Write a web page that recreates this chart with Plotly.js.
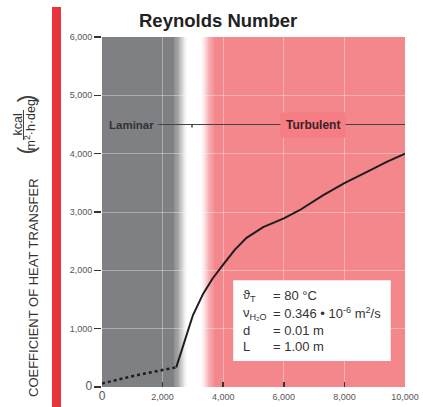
<!DOCTYPE html>
<html>
<head>
<meta charset="utf-8">
<script src="https://cdn.plot.ly/plotly-3.0.1.min.js"></script>
<style>html,body{margin:0;padding:0;background:#fff;}#chart{width:423px;height:407px;}</style>
</head>
<body>
<div id="chart"></div>
<script>
// Laminar part (dotted)
const reLaminar = [0, 500, 1000, 1500, 2000, 2450];
const hLaminar = [60, 125, 185, 240, 290, 337];
// Transition + turbulent part (solid)
const reTurbulent = [2450, 3000, 3340, 3650, 3980, 4380, 4770, 5320, 6000, 6520, 7290, 8000, 8730, 9380, 10000];
const hTurbulent = [337, 1230, 1600, 1860, 2085, 2350, 2556, 2740, 2890, 3030, 3285, 3497, 3685, 3856, 4000];
// Regions (Reynolds number)
const grayEnd = 2380, whiteStart = 2850, whiteEnd = 3230, redStart = 3670, reMax = 10000;
const yTicks = [0, 1000, 2000, 3000, 4000, 5000, 6000];
const yTickText = ['<span style="font-size:12px">0</span>', '1,000', '2,000', '3,000', '4,000', '5,000', '6,000'];
const xTicks = [0, 2000, 4000, 6000, 8000, 10000];
const xTickText = ['<span style="font-size:12px">0</span>', '2,000', '4,000', '6,000', '8,000', '10,000'];
const regimeY = 4500;

const GRAY = [127, 128, 132], WHITE = [255, 255, 255], RED = [243, 135, 139];
function mix(a, b, t) { return 'rgb(' + a.map((v, i) => Math.round(v + (b[i] - v) * t)).join(',') + ')'; }

const shapes = [];
shapes.push({type: 'rect', xref: 'x', yref: 'y', x0: 0, x1: grayEnd, y0: 0, y1: 6000, fillcolor: mix(GRAY, GRAY, 0), line: {width: 0}, layer: 'below'});
const N = 24;
for (let i = 0; i < N; i++) {
  const a = grayEnd + (whiteStart - grayEnd) * i / N, b = grayEnd + (whiteStart - grayEnd) * (i + 1) / N;
  const t = (i + 0.5) / N;
  const s = t * t * (3 - 2 * t);
  shapes.push({type: 'rect', xref: 'x', yref: 'y', x0: a, x1: b + 5, y0: 0, y1: 6000, fillcolor: mix(GRAY, WHITE, s), line: {width: 0}, layer: 'below'});
}
shapes.push({type: 'rect', xref: 'x', yref: 'y', x0: whiteStart, x1: whiteEnd, y0: 0, y1: 6000, fillcolor: 'rgb(255,255,255)', line: {width: 0}, layer: 'below'});
for (let i = 0; i < N; i++) {
  const a = whiteEnd + (redStart - whiteEnd) * i / N, b = whiteEnd + (redStart - whiteEnd) * (i + 1) / N;
  const t = (i + 0.5) / N;
  const s = t * t * (3 - 2 * t);
  shapes.push({type: 'rect', xref: 'x', yref: 'y', x0: a, x1: b + 5, y0: 0, y1: 6000, fillcolor: mix(WHITE, RED, s), line: {width: 0}, layer: 'below'});
}
shapes.push({type: 'rect', xref: 'x', yref: 'y', x0: redStart, x1: reMax, y0: 0, y1: 6000, fillcolor: mix(RED, RED, 0), line: {width: 0}, layer: 'below'});

// regime line
shapes.push({type: 'line', xref: 'x', yref: 'y', x0: 1850, x1: reMax, y0: regimeY, y1: regimeY, line: {color: '#444', width: 1}, layer: 'above'});
shapes.push({type: 'line', xref: 'x', yref: 'y', x0: 2970, x1: 2970, y0: regimeY - 50, y1: regimeY, line: {color: '#444', width: 1.5}, layer: 'above'});
// info box
shapes.push({type: 'rect', xref: 'x', yref: 'y', x0: 4330, x1: 9530, y0: 445, y1: 1832, fillcolor: '#ffffff', line: {width: 0}, layer: 'above'});

// pixel -> paper helpers (plot area: l=102, r=405, t=37, b=387)
const PL = 102, PW = 303, PB = 387, PH = 350;
const px = v => (v - PL) / PW, py = v => (PB - v) / PH;
shapes.push({type: 'rect', xref: 'paper', yref: 'paper', x0: px(52), x1: px(61), y0: py(407), y1: py(7), fillcolor: '#e8343c', line: {width: 0}, layer: 'above'});
shapes.push({type: 'line', xref: 'paper', yref: 'paper', x0: px(23.5), x1: px(23.5), y0: py(140), y1: py(110), line: {color: '#444', width: 1}, layer: 'above'});

const FONT = 'Liberation Sans, Arial, Helvetica, sans-serif';
const txt = (x, y, text, size, extra) => Object.assign({x: x, y: y, xref: 'x', yref: 'y', text: text, showarrow: false, xanchor: 'left', yanchor: 'middle', font: {family: FONT, size: size, color: '#333'}}, extra || {});

const annotations = [
  {xref: 'paper', yref: 'paper', x: px(218), y: py(20), text: '<b>Reynolds Number</b>', showarrow: false, xanchor: 'center', yanchor: 'middle', font: {family: FONT, size: 18.5, color: '#222'}},
  {xref: 'paper', yref: 'paper', x: px(33), y: py(288), text: 'COEFFICIENT OF HEAT TRANSFER', textangle: -90, showarrow: false, xanchor: 'center', yanchor: 'middle', font: {family: FONT, size: 13, color: '#333'}},
  {xref: 'paper', yref: 'paper', x: px(17.5), y: py(125), text: 'kcal', textangle: -90, showarrow: false, xanchor: 'center', yanchor: 'middle', font: {family: FONT, size: 12.5, color: '#333'}},
  {xref: 'paper', yref: 'paper', x: px(29.5), y: py(125), text: 'm<sup>2</sup>·h·deg', textangle: -90, showarrow: false, xanchor: 'center', yanchor: 'middle', font: {family: FONT, size: 12.5, color: '#333'}},
  {xref: 'paper', yref: 'paper', x: px(24.5), y: py(151), text: '(', textangle: -90, showarrow: false, xanchor: 'center', yanchor: 'middle', font: {family: FONT, size: 24, color: '#444'}},
  {xref: 'paper', yref: 'paper', x: px(24.5), y: py(99), text: ')', textangle: -90, showarrow: false, xanchor: 'center', yanchor: 'middle', font: {family: FONT, size: 24, color: '#444'}},
  txt(170, regimeY, '<b>Laminar</b>', 11.5),
  {x: 6950, y: regimeY, xref: 'x', yref: 'y', text: '<b>Turbulent</b>', showarrow: false, xanchor: 'center', yanchor: 'middle', bgcolor: '#f67d83', borderpad: 5, font: {family: FONT, size: 12, color: '#3a2226'}},
  txt(4580, 1577, 'ϑ<sub>T</sub>', 13),
  txt(5590, 1577, '= 80 °C', 13),
  txt(4580, 1268, 'ν<sub>H₂O</sub>', 13),
  txt(5590, 1268, '= 0.346 • 10<sup>-6</sup> m<sup>2</sup>/s', 13),
  txt(4580, 977, 'd', 13),
  txt(5590, 977, '= 0.01 m', 13),
  txt(4580, 686, 'L', 13),
  txt(5590, 686, '= 1.00 m', 13)
];

const traces = [
  {x: reLaminar, y: hLaminar, type: 'scatter', mode: 'lines', line: {color: '#1e1e1e', width: 2.5, dash: 'dot'}, hoverinfo: 'skip'},
  {x: reTurbulent, y: hTurbulent, type: 'scatter', mode: 'lines', line: {color: '#1e1e1e', width: 2, shape: 'linear'}, hoverinfo: 'skip'}
];

const layout = {
  width: 423, height: 407,
  margin: {l: 102, r: 18, t: 37, b: 20},
  paper_bgcolor: '#ffffff', plot_bgcolor: 'rgba(0,0,0,0)',
  showlegend: false,
  font: {family: FONT, color: '#555'},
  xaxis: {range: [0, reMax], tickvals: xTicks, ticktext: xTickText, ticks: 'inside', ticklen: 5, tickwidth: 1.5, tickcolor: '#333',
          showgrid: true, gridcolor: 'rgba(255,255,255,0.35)', gridwidth: 1, zeroline: false, showline: false,
          tickfont: {family: FONT, size: 9, color: '#555'}, ticklabelstandoff: 3, layer: 'above traces'},
  yaxis: {range: [0, 6000], tickvals: yTicks, ticktext: yTickText, ticks: 'outside', ticklen: 7, tickwidth: 1.2, tickcolor: '#333',
          showgrid: true, gridcolor: 'rgba(255,255,255,0.35)', gridwidth: 1, zeroline: false, showline: false,
          tickfont: {family: FONT, size: 9, color: '#555'}, ticklabelstandoff: 0},
  shapes: shapes,
  annotations: annotations
};

Plotly.newPlot('chart', traces, layout, {staticPlot: true, displayModeBar: false});
</script>
</body>
</html>
